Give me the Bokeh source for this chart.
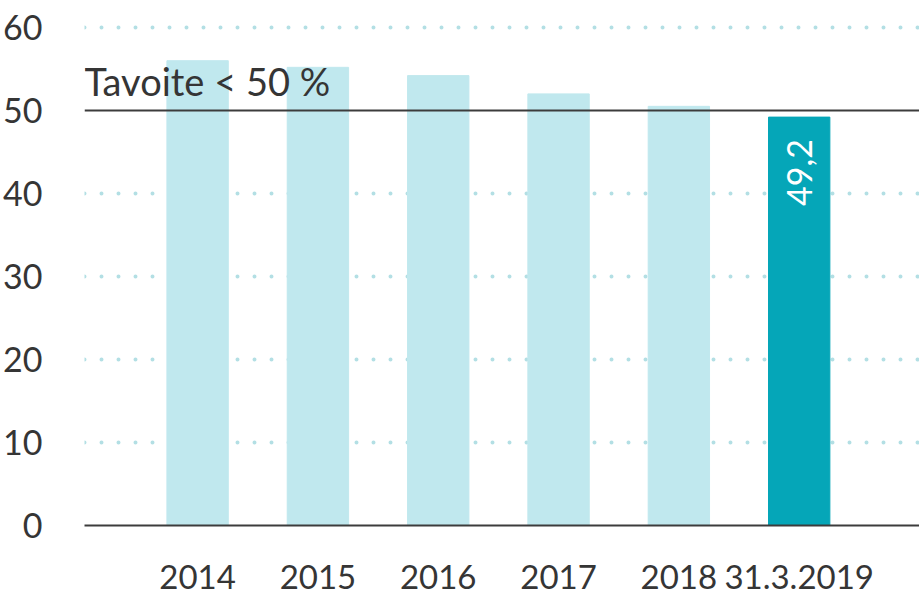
import math
from bokeh.plotting import figure
from bokeh.models import ColumnDataSource, FixedTicker, Span, Label
from bokeh.embed import file_html
from bokeh.resources import INLINE

categories = ["2014", "2015", "2016", "2017", "2018", "31.3.2019"]
values = [56.0, 55.2, 54.2, 52.0, 50.5, 49.2]
bar_colors = ["#c0e8ee", "#c0e8ee", "#c0e8ee", "#c0e8ee", "#c0e8ee", "#05a6b8"]
y_ticks = [0, 10, 20, 30, 40, 50, 60]
target_value = 50
target_text = "Tavoite < 50 %"
highlight_text = "49,2"

FONT = "Lato"
TXT = "#353535"

xs = list(range(len(categories)))
src = ColumnDataSource(dict(x=xs, top=values, color=bar_colors))

p = figure(width=919, height=599, output_backend="svg", toolbar_location=None,
           x_range=(-0.94, 6.0), y_range=(0, 63.25),
           min_border_left=83, min_border_right=0, min_border_top=0, min_border_bottom=74)
p.outline_line_color = None
p.background_fill_color = "white"
p.border_fill_color = "white"

p.vbar(x="x", top="top", width=0.51, color="color", source=src)

# axes
p.xaxis.ticker = FixedTicker(ticks=xs)
p.xaxis.major_label_overrides = {i: c for i, c in zip(xs, categories)}
p.xaxis.axis_line_color = "#3c3c3c"
p.xaxis.axis_line_width = 2
p.xaxis.major_tick_line_color = None
p.xaxis.minor_tick_line_color = None
p.xaxis.major_label_standoff = 33
p.xaxis.major_label_text_font = FONT
p.xaxis.major_label_text_font_size = "33px"
p.xaxis.major_label_text_color = TXT

p.yaxis.ticker = FixedTicker(ticks=y_ticks)
p.yaxis.axis_line_color = None
p.yaxis.major_tick_line_color = None
p.yaxis.minor_tick_line_color = None
p.yaxis.major_label_standoff = 36
p.yaxis.major_label_text_font = FONT
p.yaxis.major_label_text_font_size = "34px"
p.yaxis.major_label_text_color = TXT

p.xgrid.grid_line_color = None
p.ygrid.ticker = FixedTicker(ticks=[t for t in y_ticks if t not in (0, target_value)])
p.ygrid.grid_line_color = "#b3dfe4"
p.ygrid.grid_line_width = 4
p.ygrid.grid_line_dash = "0 17"
p.ygrid.grid_line_cap = "round"

p.add_layout(Span(location=target_value, dimension="width", line_color="#3c3c3c", line_width=2))

p.add_layout(Label(x=-0.94, y=target_value, text=target_text, text_font=FONT,
                   text_font_size="38px", text_color=TXT, text_baseline="bottom",
                   text_align="left", x_offset=0, y_offset=6))

p.add_layout(Label(x=xs[-1], y=values[-1], text=highlight_text, text_font=FONT,
                   text_font_size="34px", text_color="white", angle=math.pi / 2,
                   text_align="right", text_baseline="middle", y_offset=-22))

open("out.html", "w").write(file_html(p, INLINE))
